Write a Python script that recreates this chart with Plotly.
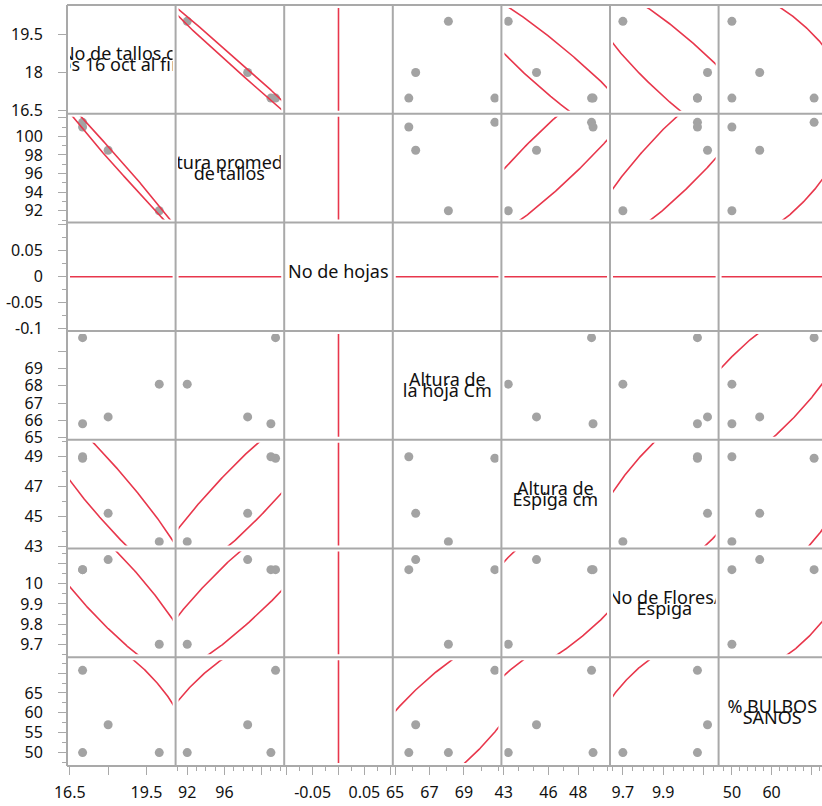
import numpy as np
import plotly.graph_objects as go

# ---- measurements: four plots, seven variables ----
tallos_16oct = [17, 17, 18, 20]
altura_prom_tallos = [101.5, 101.0, 98.5, 92.0]
no_hojas = [0, 0, 0, 0]
altura_hoja_cm = [70.8, 65.8, 66.2, 68.1]
altura_espiga_cm = [48.9, 49.0, 45.2, 43.3]
flores_por_espiga = [10.07, 10.07, 10.12, 9.70]
bulbos_sanos_pct = [70.7, 50.0, 57.0, 50.0]

variables = [tallos_16oct, altura_prom_tallos, no_hojas, altura_hoja_cm,
             altura_espiga_cm, flores_por_espiga, bulbos_sanos_pct]

# diagonal captions (wrapped onto two lines)
label_lines = [
    ["No de tallos c/", "os 16 oct al fin"],
    ["Altura promedio", "de tallos"],
    ["No de hojas"],
    ["Altura de", "la hoja Cm"],
    ["Altura de", "Espiga cm"],
    ["No de Flores/", "Espiga"],
    ["% BULBOS", "SANOS"],
]

# left-axis ticks (values, texts) and minor step for each variable
y_tick_vals = [[16.5, 18, 19.5], [92, 94, 96, 98, 100, 102], [-0.1, -0.05, 0, 0.05, 0.1],
               [65, 66, 67, 68, 69, 70], [43, 45, 47, 49], [9.7, 9.8, 9.9, 10.0, 10.1],
               [50, 55, 60, 65, 70]]
y_tick_text = [["16.5", "18", "19.5"], ["92", "94", "96", "98", "100", ""],
               ["-0.1", "-0.05", "0", "0.05", ""], ["65", "66", "67", "68", "69", ""],
               ["43", "45", "47", "49"], ["9.7", "9.8", "9.9", "10", ""],
               ["50", "55", "60", "65", ""]]
y_minor = [None, 1, 0.025, None, 1, 0.05, 2.5]

# bottom-axis ticks
x_tick_vals = [[16.5, 18, 19.5], [92, 96, 100], [-0.1, -0.05, 0, 0.05, 0.1],
               [65, 67, 69], [43, 46, 48], [9.7, 9.9, 10.1], [50, 60, 70]]
x_tick_text = [["16.5", "", "19.5"], ["92", "96", ""], ["", "-0.05", "", "0.05", ""],
               ["65", "67", "69"], ["43", "46", "48"], ["9.7", "9.9", ""], ["50", "60", ""]]
x_minor = [None, 1, 0.025, 1, 1, 0.05, 2]

# value range covered by one full cell frame, per variable
cell_range = [(16.39, 20.64), (90.75, 102.43), (-0.105, 0.105), (64.87, 71.18),
              (42.84, 50.14), (9.636, 10.175), (46.65, 74.0)]

# ---- page geometry (pixels) ----
FW, FH = 822, 806
X0, Y0 = 67.0, 5.0
CW, CH = 108.6, 108.7
INSET = 3.0
NV = len(variables)

FRAME = "#a9a9a9"
RED = "#e8374c"
DOT = "#a3a3a3"
FONT = "Noto Sans"

def px(x):
    return min(max(x / FW, 0.0), 1.0)

def py(y):
    return min(max(1.0 - y / FH, 0.0), 1.0)

def x_axis_span(j, left, right):
    lo, hi = cell_range[j]
    fx = X0 + j * CW
    right = min(right, FW)
    return [lo + (left - fx) / CW * (hi - lo), lo + (right - fx) / CW * (hi - lo)], [px(left), px(right)]

def y_axis_span(i, top, bottom):
    lo, hi = cell_range[i]
    fy = Y0 + i * CH
    return ([lo + (fy + CH - bottom) / CH * (hi - lo), lo + (fy + CH - top) / CH * (hi - lo)],
            [py(bottom), py(top)])

CHI2_95 = -2.0 * np.log(0.05)

def density_ellipse(x, y, n=721):
    x = np.asarray(x, float)
    y = np.asarray(y, float)
    cov = np.cov(x, y)
    w, v = np.linalg.eigh(cov)
    w = np.clip(w, 0, None)
    t = np.linspace(0, 2 * np.pi, n)
    circ = np.vstack([np.cos(t), np.sin(t)])
    pts = np.array([[x.mean()], [y.mean()]]) + v @ (np.sqrt(CHI2_95 * w)[:, None] * circ)
    return pts[0], pts[1]

fig = go.Figure()
layout = {}
k = 0
hidden = dict(visible=False, fixedrange=True)

for i in range(NV):
    for j in range(NV):
        if i == j:
            continue
        k += 1
        fx = X0 + j * CW
        fy = Y0 + i * CH
        xr, xd = x_axis_span(j, fx + INSET, fx + CW - INSET)
        yr, yd = y_axis_span(i, fy + INSET, fy + CH - INSET)
        xa, ya = f"x{k}", f"y{k}"
        layout[f"xaxis{k}"] = dict(domain=xd, range=xr, anchor=ya, showgrid=False, zeroline=False,
                                   showline=False, showticklabels=False, ticks="", fixedrange=True)
        layout[f"yaxis{k}"] = dict(domain=yd, range=yr, anchor=xa, showgrid=False, zeroline=False,
                                   showline=False, showticklabels=False, ticks="", fixedrange=True)
        xs, ys = variables[j], variables[i]
        if np.std(xs) > 0 and np.std(ys) > 0:
            fig.add_trace(go.Scatter(x=xs, y=ys, mode="markers", xaxis=xa, yaxis=ya,
                                     marker=dict(color=DOT, size=9), showlegend=False,
                                     hoverinfo="skip"))
        ex, ey = density_ellipse(xs, ys)
        fig.add_trace(go.Scatter(x=ex, y=ey, mode="lines", xaxis=xa, yaxis=ya,
                                 line=dict(color=RED, width=1.6), showlegend=False,
                                 hoverinfo="skip"))

tick_font = dict(family=FONT, size=16, color="#111111")

def minor_spec(step):
    if step is None:
        return dict(ticks="")
    return dict(tickmode="linear", tick0=0, dtick=step, ticks="outside", ticklen=4,
                tickwidth=1, tickcolor=FRAME, showgrid=False)

# left tick axes, one per row
for i in range(NV):
    k += 1
    fy = Y0 + i * CH
    yr, yd = y_axis_span(i, fy, fy + CH)
    layout[f"xaxis{k}"] = dict(domain=[px(X0), px(X0 + CW)], range=[0, 1], anchor=f"y{k}", **hidden)
    layout[f"yaxis{k}"] = dict(domain=yd, range=yr, anchor=f"x{k}", side="left",
                               tickmode="array", tickvals=y_tick_vals[i], ticktext=y_tick_text[i],
                               ticks="outside", ticklen=8, tickwidth=1, tickcolor=FRAME,
                               tickfont=tick_font, ticklabelstandoff=12,
                               minor=minor_spec(y_minor[i]), showgrid=False, zeroline=False,
                               showline=False, fixedrange=True)
    fig.add_trace(go.Scatter(x=[], y=[], xaxis=f"x{k}", yaxis=f"y{k}", showlegend=False))

# bottom tick axes, one per column
for j in range(NV):
    k += 1
    fx = X0 + j * CW
    xr, xd = x_axis_span(j, fx, fx + CW)
    fyb = Y0 + (NV - 1) * CH
    layout[f"yaxis{k}"] = dict(domain=[py(fyb + CH), py(fyb)], range=[0, 1], anchor=f"x{k}", **hidden)
    layout[f"xaxis{k}"] = dict(domain=xd, range=xr, anchor=f"y{k}", side="bottom",
                               tickmode="array", tickvals=x_tick_vals[j], ticktext=x_tick_text[j],
                               ticks="outside", ticklen=8, tickwidth=1, tickcolor=FRAME,
                               tickfont=tick_font, ticklabelstandoff=4,
                               minor=minor_spec(x_minor[j]), showgrid=False, zeroline=False,
                               showline=False, fixedrange=True)
    fig.add_trace(go.Scatter(x=[], y=[], xaxis=f"x{k}", yaxis=f"y{k}", showlegend=False))

# cell frames
shapes = []
grid_bottom = Y0 + NV * CH
for c in range(NV + 1):
    xline = X0 + c * CW
    if xline > FW:
        continue
    shapes.append(dict(type="line", xref="paper", yref="paper", x0=px(xline), x1=px(xline),
                       y0=py(Y0), y1=py(grid_bottom), line=dict(color=FRAME, width=2)))
for r in range(NV + 1):
    yline = Y0 + r * CH
    shapes.append(dict(type="line", xref="paper", yref="paper", x0=px(X0), x1=1.0,
                       y0=py(yline), y1=py(yline), line=dict(color=FRAME, width=2)))

# variable names on the diagonal
annotations = []
for i, lines in enumerate(label_lines):
    cx = X0 + i * CW + CW / 2
    cy = Y0 + i * CH + CH / 2
    offsets = [-6.0] if len(lines) == 1 else [-6.0, 5.0]
    for txt, off in zip(lines, offsets):
        annotations.append(dict(xref="paper", yref="paper", x=px(cx), y=py(cy + off),
                                text=txt, showarrow=False, xanchor="center", yanchor="middle",
                                width=CW - 2 * INSET, align="center",
                                font=dict(family=FONT, size=18, color="#111111")))

fig.update_layout(
    width=FW, height=FH,
    margin=dict(l=0, r=0, t=0, b=0, autoexpand=False),
    paper_bgcolor="white", plot_bgcolor="rgba(0,0,0,0)",
    showlegend=False,
    shapes=shapes, annotations=annotations,
    **layout,
)

fig.write_html("out.html")
